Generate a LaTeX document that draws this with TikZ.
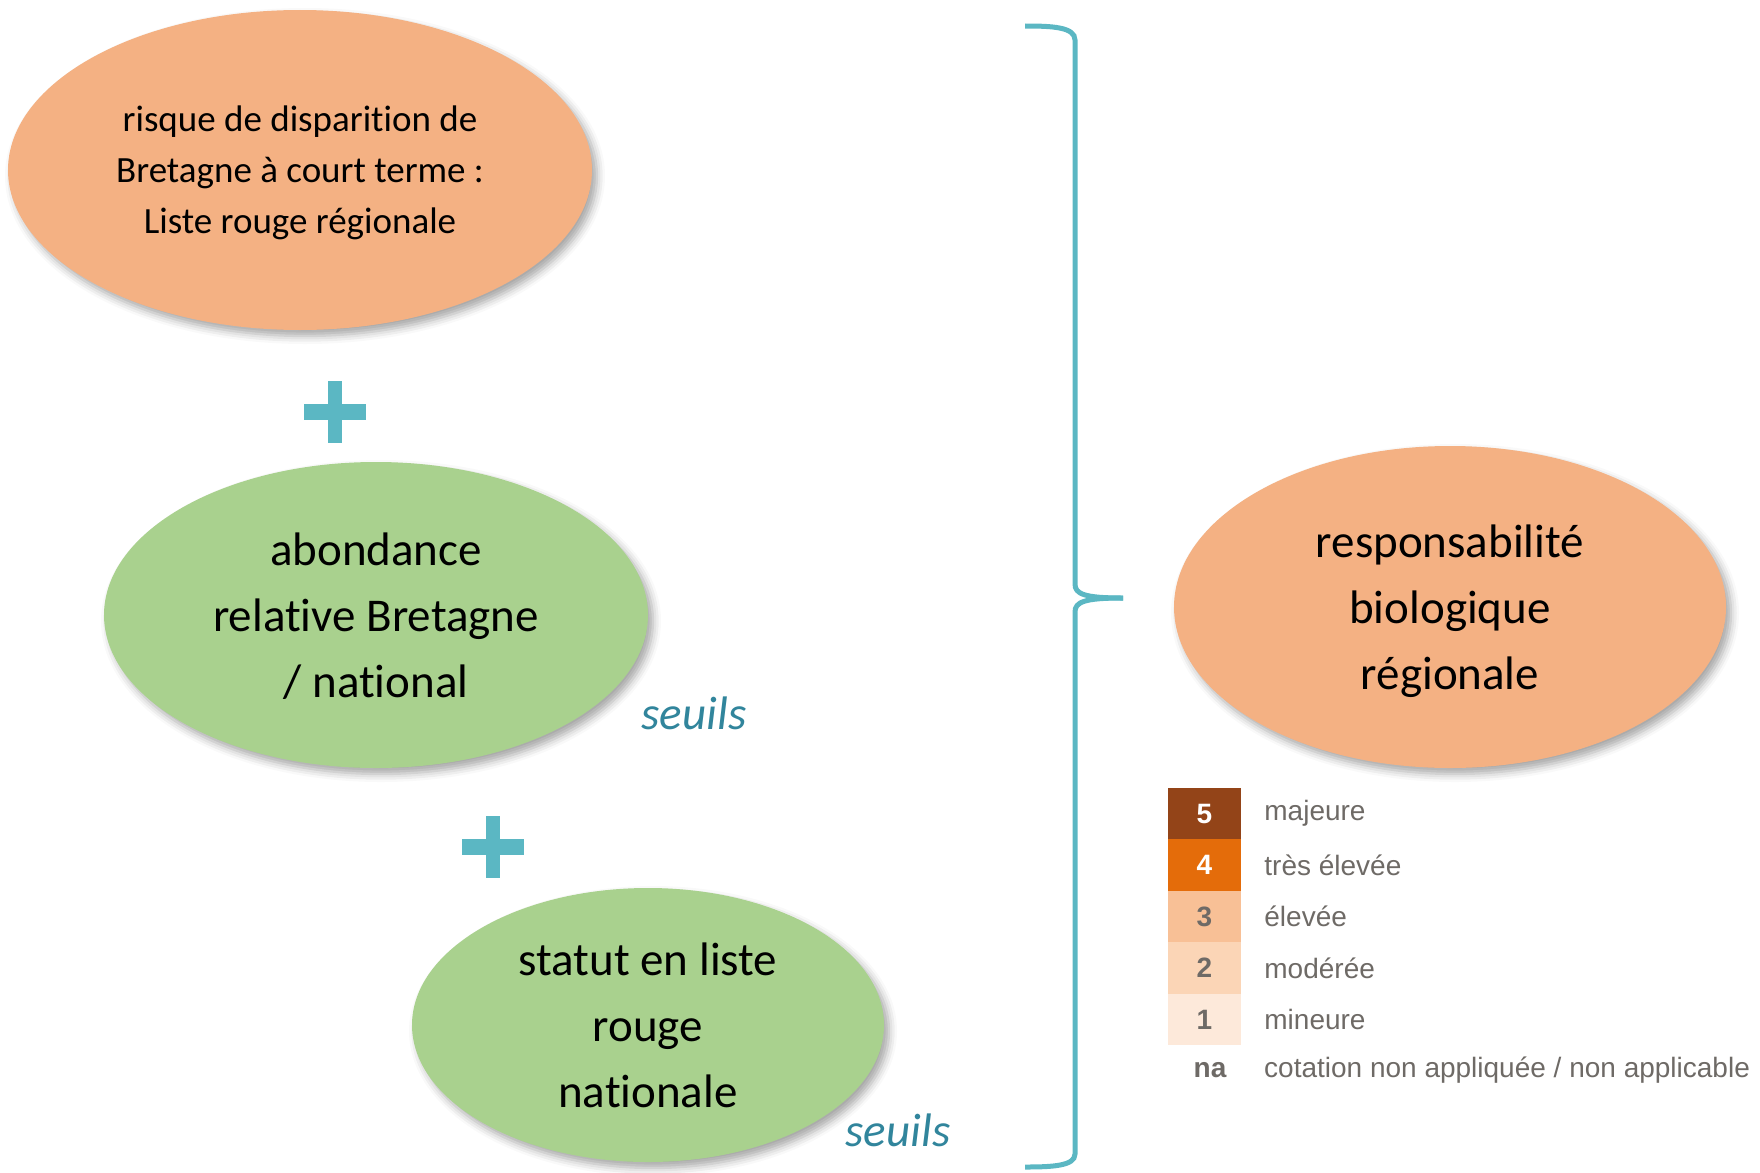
\documentclass[tikz,border=0pt]{standalone}
\usepackage{fontspec}
\setmainfont{Carlito}[Ligatures=NoCommon]
\newfontfamily\legfont{Liberation Sans}
\usetikzlibrary{shapes.geometric,shadows.blur,positioning}

\definecolor{orangeblob}{HTML}{F4B183}
\definecolor{greenblob}{HTML}{A9D18E}
\definecolor{accentblue}{HTML}{5BB7C3}
\definecolor{seuilteal}{HTML}{31859C}
\definecolor{lev5}{HTML}{934418}
\definecolor{lev4}{HTML}{E46C0A}
\definecolor{lev3}{HTML}{F8C096}
\definecolor{lev2}{HTML}{FBD5B6}
\definecolor{lev1}{HTML}{FDE9DA}
\definecolor{legtext}{HTML}{6E6A66}

\tikzset{
  blob/.style={ellipse, inner sep=0pt, align=center, text depth=0pt,
    blur shadow={shadow xshift=5pt, shadow yshift=-6pt, shadow blur radius=8pt, shadow opacity=35}},
  bigtext/.style={font=\fontsize{47}{66}\selectfont},
  seuil/.style={font=\fontsize{47}{56}\selectfont\itshape, text=seuilteal, inner sep=0pt},
  brace/.style={draw=accentblue, line width=5pt},
  legbox/.style={minimum width=73pt, minimum height=51.5pt, inner sep=0pt, font=\legfont\bfseries\fontsize{28}{32}\selectfont},
  leglabel/.style={anchor=west, inner sep=0pt, text=legtext, font=\legfont\fontsize{28}{32}\selectfont}
}

\begin{document}
\begin{tikzpicture}[x=1pt,y=-1pt]
  \useasboundingbox (0,0) rectangle (1760,1172);

  % left column
  \node[blob, fill=orangeblob, minimum width=584pt, minimum height=320pt,
        font=\fontsize{37}{51}\selectfont] (risque) at (300,170)
        {risque de disparition de\\Bretagne à court terme :\\Liste rouge régionale};
  \node[blob, bigtext, fill=greenblob, minimum width=544pt, minimum height=306pt] (abondance) at (376,615)
        {abondance\\relative Bretagne\\/ national};
  \node[blob, bigtext, fill=greenblob, minimum width=472pt, minimum height=274pt] (statut) at (648,1025)
        {statut en liste\\rouge\\nationale};
  \node[seuil] (seuil1) at (694,713) {seuils};
  \node[seuil] (seuil2) at (898,1130) {seuils};

  % plus signs
  \foreach \px/\py in {335/412, 493/847} {
    \fill[accentblue] (\px-31,\py-8) rectangle (\px+31,\py+8);
    \fill[accentblue] (\px-7,\py-31) rectangle (\px+7,\py+31);
  }

  % brace
  \draw[brace] (1025,26) .. controls (1052,26) and (1075,27) .. (1075,40) -- (1075,584)
        .. controls (1075,594) and (1084,598) .. (1123,598);
  \draw[brace] (1123,598) .. controls (1084,598) and (1075,602) .. (1075,612) -- (1075,1154)
        .. controls (1075,1166) and (1052,1167) .. (1025,1167);

  % result
  \node[blob, bigtext, fill=orangeblob, minimum width=552pt, minimum height=322pt] (resp) at (1450,607)
        {responsabilité\\biologique\\régionale};

  % legend
  \foreach \lv/\ly/\lab/\numcol in {5/813.5/majeure/white, 4/865/très élevée/white,
      3/916.5/élevée/legtext, 2/968/modérée/legtext, 1/1019.5/mineure/legtext} {
    \node[legbox, fill=lev\lv, text=\numcol] (leg\lv) at (1204.5,\ly) {\lv};
    \node[leglabel, right=23pt of leg\lv] (lab\lv) {\lab};
  }
  \node[legbox, text=legtext] (legna) at (1210,1070) {na};
  \node[leglabel] (labna) at (1264,1070) {cotation non appliquée / non applicable};
\end{tikzpicture}
\end{document}
